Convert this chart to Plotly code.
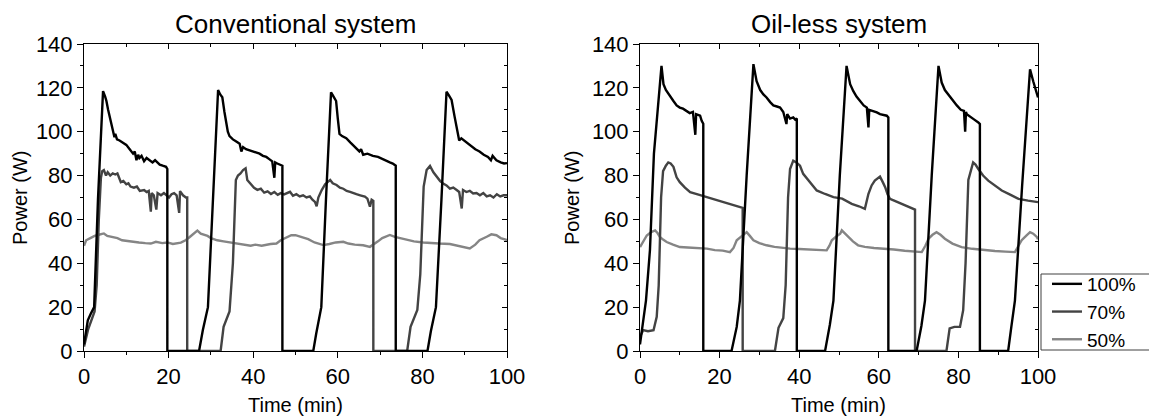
import plotly.graph_objects as go

# Conventional system (left panel), time in min, power in W
conv_100_t = [0, 0.5, 0.9, 1.6, 2.4, 3.3, 4.5, 5.0, 5.3, 5.7, 6.1, 6.5, 6.9, 7.2, 7.4, 7.8, 8.4, 9.2, 10, 10.8,
              11.6, 12.0, 12.4, 12.8, 13.1, 13.6, 14.2, 14.8, 15.5, 16.2, 16.8, 17.9, 18.6, 19.4, 19.7, 19.7,
              27.2, 28.1, 29.3, 30.5, 31.7, 32.2, 32.7, 33.2, 33.6, 34.0, 34.4, 35.2, 36.0, 36.8, 37.2, 37.6,
              38.3, 39.1, 39.9, 40.7, 41.5, 42.3, 43.1, 43.8, 44.5, 45.0, 45.2, 45.7, 46.4, 46.9, 46.9,
              54.2, 54.9, 56.1, 57.2, 58.4, 59.0, 59.6, 60.0, 60.4, 61.0, 62, 63, 64, 65.1, 65.5, 66.0, 67,
              68.3, 69.5, 70.5, 71.5, 72.3, 73, 73.7, 73.7,
              81.2, 82, 83.2, 84.5, 85.7, 86.3, 86.9, 87.6, 88.3, 88.7, 89.2, 90.2, 91.3, 92.5, 93.5, 94.5,
              95.5, 96.2, 96.6, 97.5, 98.5, 99.3, 100]
conv_100_p = [3, 9, 14, 17, 20, 69, 118.5, 116, 114, 110, 106.7, 102, 100, 97.5, 99, 96.5, 96, 95, 94, 92,
              90, 91, 87, 89.5, 88, 89, 86.5, 88, 87, 86, 87, 85, 84.5, 84, 83, 0,
              0, 9.6, 20, 69, 119, 117, 115.7, 109, 103.6, 100, 98, 96.5, 95.5, 94.5, 91, 93,
              92, 91.5, 90.8, 90.5, 90, 89, 88.5, 87.5, 86.5, 79, 86, 85.5, 85, 84.5, 0,
              0, 8, 20, 69, 118, 116, 114, 106, 99, 98, 97, 95, 93, 91, 92, 89.5, 90,
              89, 88.5, 87.5, 86.5, 86, 85.5, 84.5, 0,
              0, 9, 20, 69, 118.2, 116.5, 114.5, 107, 100, 96, 97, 95.5, 94, 92, 91, 89.5,
              88.5, 87, 89, 87, 86, 85.5, 85.7]

conv_70_t = [0, 1, 2.5, 3.0, 3.5, 4.0, 4.3, 4.7, 5.2, 5.6, 6.2, 6.8, 7.4, 7.9, 8.3, 8.7, 9.3, 10, 10.5, 11,
             11.8, 12.5, 13.2, 14.2, 14.8, 15.3, 15.8, 16.0, 16.5, 17.1, 17.4, 18.2, 18.9, 19.5, 20.1, 20.7,
             21.3, 21.9, 22.5, 22.7, 23.4, 24.1, 24.4, 24.4,
             32.3, 33.0, 34.4, 35.2, 35.9, 36.4, 37, 37.6, 38.2, 38.6, 39.4, 40.2, 41.0, 41.8, 42.6, 43.4,
             44.2, 45.0, 45.8, 46.5, 47.3, 48.0, 48.7, 49.4, 50.2, 51.0, 51.8, 52.6, 53.4, 54.0, 54.6, 55,
             55.4, 56.2, 57.0, 58.2, 58.8, 59.7, 60.5, 61.3, 62.1, 62.9, 63.6, 64.4, 65.3, 66.4, 67.0, 67.6,
             68.0, 68.4, 68.4,
             76.4, 77.2, 78.8, 79.5, 80.3, 81, 81.8, 82.6, 83.4, 84.2, 84.9, 85.7, 86.5, 87.3, 88.1, 88.7,
             89.3, 89.6, 90.4, 91.2, 92.0, 92.8, 93.6, 94.4, 95.2, 96, 96.8, 97.6, 98.4, 99.2, 100]
conv_70_p = [2, 10, 18, 30, 60, 79, 82, 82.5, 80, 81.5, 80, 81, 80.5, 81, 79, 77, 77.5, 76, 76.5, 75,
             74.5, 75, 73, 73.4, 72.5, 73, 63.5, 72, 71, 64.5, 72, 71, 72, 71, 70, 71.5,
             72, 71, 63, 72.9, 71, 70, 70, 0,
             0, 11, 18, 40, 78, 80, 81, 82.5, 83.3, 78, 76, 74.4, 73.5, 74, 72.2, 72.8,
             71.6, 72.5, 71.2, 72, 71.4, 72, 72.6, 70.8, 71.5, 70.5, 71, 70, 70.5, 69, 68, 66,
             70, 73.4, 76, 78, 76.5, 75.7, 74.5, 74, 73, 72.6, 72, 71.5, 71, 70.4, 69.5, 65.8,
             69, 68.5, 0,
             0, 11, 18.7, 35, 75, 82.5, 84.4, 81.5, 79.5, 77.5, 76.4, 75.5, 74, 74.5, 73.4, 72.5,
             65, 73.4, 72.5, 73, 71.8, 72, 71, 72, 70.5, 71, 70, 71.5, 70.5, 71, 71]

conv_50_t = [0, 0.5, 1.5, 2.5, 3.5, 4.7, 5.5, 6.5, 7.9, 9, 10.5, 11.8, 13, 14.5, 15.8, 17, 18.5, 19.7, 21,
             22.9, 24, 25, 26.0, 26.8, 27.6, 28.4, 29.2, 30, 31.5, 33, 34.7, 36, 37.5, 39.4, 40.5, 42, 44.1,
             45.5, 46.5, 48, 49, 50, 51.5, 53, 54.5, 56.6, 58, 59.5, 61.3, 62.5, 64, 66, 67.6, 68.5, 69.5,
             70.5, 72.3, 73.5, 74.7, 76, 78, 80.2, 82, 84, 86.5, 88, 89.5, 91.2, 92.5, 93.5, 95.2, 96.3,
             97.5, 98.5, 100]
conv_50_p = [48, 50.5, 51.5, 52.5, 53, 53.6, 52.5, 52, 51.5, 50.5, 50, 49.8, 49.5, 49.2, 49, 49.8, 49.2, 49.5,
             48.8, 49.4, 50.5, 52, 53.5, 54.9, 53.5, 53, 52.5, 51.5, 50.5, 50, 49.5, 49, 48.5, 48, 48.5, 48,
             48.8, 49, 50.5, 52.1, 52.8, 52.8, 52, 51, 49.5, 48.3, 48.8, 49.5, 49.8, 49, 48.5, 48.2, 47.5,
             48.5, 50, 51.5, 52.9, 52, 51.5, 51, 50, 49.5, 49.2, 49, 48.8, 48.2, 47.5, 46.8, 48.5, 50.5,
             52.1, 53.2, 52.8, 51.5, 50.6]

# Oil-less system (right panel)
oil_100_t = [0, 1.0, 1.5, 2.5, 3.5, 5.4, 5.9, 6.5, 7.2, 8.4, 9.2, 10, 10.8, 11.7, 12.5, 13.3, 13.9, 14.1,
             14.6, 15.1, 15.5, 15.9, 15.9,
             23, 24.3, 25.1, 26.8, 28.5, 29.3, 30.2, 31.0, 31.8, 32.7, 33.5, 34.4, 35.2, 36.0, 36.8, 37.0,
             37.7, 38.5, 39.0, 39.4, 39.4,
             46.5, 47.7, 48.6, 50.2, 51.9, 52.8, 53.6, 54.4, 55.3, 56.2, 57.0, 57.4, 57.6, 58.5, 59.5, 60.3,
             61.2, 62.0, 62.4, 62.4,
             69.5, 70.7, 71.6, 73.3, 75, 75.8, 76.6, 77.6, 78.7, 79.6, 80.6, 81.4, 81.7, 81.9, 82.1, 83.0,
             84.0, 85, 85.4, 85.4,
             92.5, 93.3, 94.2, 96, 98, 98.8, 99.4, 100]
oil_100_p = [3, 17, 23, 46, 90, 130, 121.7, 119, 117, 114, 112, 111, 110.5, 109.5, 108.5, 109, 98.6, 108,
             107.5, 107.3, 105, 103.6, 0,
             0, 11, 23, 80, 130.8, 123, 119, 117, 115.6, 113.5, 112, 111.5, 111, 109, 103.5, 108,
             106, 106.5, 105.5, 106, 0,
             0, 12, 23, 80, 130, 121.7, 118.5, 116, 114, 112, 111, 102, 110, 109.5, 108.8, 108,
             107.5, 107.3, 106.5, 0,
             0, 11.4, 23, 80, 130, 122.4, 119, 116.5, 114, 112, 110, 109.5, 100, 109, 108, 107,
             105.5, 104.2, 103.5, 0,
             0, 11, 23, 75, 128.5, 123, 119, 115.6]

oil_70_t = [0, 0.8, 2.0, 3.4, 4.2, 4.7, 5.3, 5.8, 6.5, 7.1, 7.7, 8.4, 9.2, 10.0, 11.3, 12.6, 14.7, 16.8, 18.8,
            20.9, 23.0, 25.1, 25.8, 25.8,
            33.9, 34.8, 36.0, 36.6, 37.2, 37.7, 38.5, 39.3, 40.2, 41.0, 42.7, 44.4, 46.5, 48.6, 50.8, 53.2,
            55.0, 56.5, 57.4, 58.2, 59.0, 60.3, 61.0, 61.6, 62.2, 62.8, 64.3, 65.8, 67.3, 68.7, 69.1, 69.1,
            77, 77.8, 79.0, 80.4, 81.2, 81.8, 82.5, 83.7, 84.3, 85, 86.2, 87.5, 89.2, 90.9, 93.0, 95.1, 97.5,
            100]
oil_70_p = [6.5, 9.5, 9, 9.5, 15.6, 30, 70, 82, 84.5, 86, 85.5, 84, 79.2, 77, 74.5, 72.4, 71.3, 70.2, 69,
            67.9, 66.8, 65.6, 65.3, 0,
            0, 10.6, 15, 30, 70, 83, 86.8, 86, 84.5, 80.8, 77, 73.2, 71.6, 70.2, 69.5, 67.1,
            66, 64.8, 71.7, 75.5, 77.7, 79.5, 77, 74.7, 71.5, 69.4, 68.2, 67.1, 66, 64.8, 64.5, 0,
            0, 10.3, 11, 11, 18.6, 40, 78, 86, 85, 83, 80, 77.7, 75.3, 73.2, 71.3, 69.4, 68.6,
            67.9]

oil_50_t = [0, 0.8, 1.7, 2.8, 3.8, 4.4, 5, 5.8, 6.7, 8.3, 10, 12, 14.4, 16.8, 18.8, 20.8, 22.6, 23.5, 24.3,
            25.5, 26.8, 27.6, 28.5, 30, 31.8, 33.8, 35.8, 37.7, 40, 42.5, 44.6, 46.9, 47.6, 48.2, 49.3, 50.3,
            50.7, 51.5, 52.3, 53.5, 54.8, 56.5, 58.8, 61.5, 63.8, 66.5, 68.7, 70.8, 71.7, 72.5, 73.5, 74.5,
            75.5, 76.6, 78.5, 80.8, 83.5, 86.6, 89.2, 91.8, 94.2, 95.1, 95.9, 97, 98, 98.8, 99.7, 100]
oil_50_p = [47.4, 50, 52.7, 54.2, 55, 53.8, 52, 50.8, 49.7, 48.5, 47.4, 47.2, 46.9, 46.7, 46, 45.8, 45.1, 47,
            50.5, 52.5, 54.2, 52.5, 50.5, 49.2, 48.2, 47.5, 47, 46.7, 46.5, 46.2, 46, 45.9, 48, 50.5, 52.2,
            53.5, 55, 53.5, 52, 50, 48.2, 47.5, 47, 46.7, 46.3, 45.7, 45.4, 45.1, 48, 51.2, 53, 54.2,
            53, 51.2, 49, 47.4, 46.6, 45.9, 45.6, 45.3, 45.1, 48, 50.5, 52.5, 54.2, 53.5, 52, 51]

labels = ["100%", "70%", "50%"]
colors = ["#000000", "#434343", "#858585"]
FONT = "Liberation Sans, Arial, sans-serif"

# the page body has an 8px margin, so the figure is sized/positioned to fit the window
W, H, OFF = 1149, 411, 8


def px_x(x):
    return (x - OFF) / W


def px_y(y):
    return 1 - (y - OFF) / H


fig = go.Figure()

left = [(conv_100_t, conv_100_p), (conv_70_t, conv_70_p), (conv_50_t, conv_50_p)]
right = [(oil_100_t, oil_100_p), (oil_70_t, oil_70_p), (oil_50_t, oil_50_p)]

# draw 50% first so the darker curves sit on top
for i in [2, 1, 0]:
    t, p = left[i]
    fig.add_trace(go.Scatter(x=t, y=p, mode="lines", line=dict(color=colors[i], width=2.4),
                             name=labels[i], showlegend=False, xaxis="x", yaxis="y"))
for i in [2, 1, 0]:
    t, p = right[i]
    fig.add_trace(go.Scatter(x=t, y=p, mode="lines", line=dict(color=colors[i], width=2.4),
                             name=labels[i], showlegend=True, legendrank=i + 1, xaxis="x2", yaxis="y2"))

# empty traces so the inward-tick mirror axes get drawn
fig.add_trace(go.Scatter(x=[None], y=[None], showlegend=False, xaxis="x3", yaxis="y3"))
fig.add_trace(go.Scatter(x=[None], y=[None], showlegend=False, xaxis="x4", yaxis="y4"))

x_dom = [[px_x(84), px_x(507)], [px_x(640), px_x(1038)]]
y_dom = [px_y(351), px_y(44)]


def base_axis(rng, dom=None):
    ax = dict(range=rng, showgrid=False, zeroline=False, showline=True, linecolor="black", linewidth=1,
              ticks="outside", ticklen=6, tickwidth=1, tickcolor="black", dtick=20,
              tickfont=dict(size=22, color="black", family=FONT),
              minor=dict(dtick=10, ticks="outside", ticklen=3, tickcolor="black"))
    if dom is not None:
        ax["domain"] = dom
    return ax


def mirror_axis(rng, over, side, anchor):
    return dict(range=rng, overlaying=over, side=side, anchor=anchor, showgrid=False, zeroline=False,
                showline=True, linecolor="black", linewidth=1, ticks="inside", ticklen=5, tickcolor="black",
                dtick=20, showticklabels=False,
                minor=dict(dtick=10, ticks="inside", ticklen=3, tickcolor="black"))


fig.update_layout(
    width=W, height=H,
    margin=dict(l=0, r=0, t=0, b=0, autoexpand=False),
    plot_bgcolor="white", paper_bgcolor="white",
    font=dict(family=FONT, color="black"),
    xaxis=dict(base_axis([0, 100], x_dom[0]), anchor="y"),
    yaxis=dict(base_axis([0, 140], y_dom), anchor="x"),
    xaxis2=dict(base_axis([0, 100], x_dom[1]), anchor="y2"),
    yaxis2=dict(base_axis([0, 140], y_dom), anchor="x2"),
    xaxis3=mirror_axis([0, 100], "x", "top", "y"),
    yaxis3=mirror_axis([0, 140], "y", "right", "x"),
    xaxis4=mirror_axis([0, 100], "x2", "top", "y2"),
    yaxis4=mirror_axis([0, 140], "y2", "right", "x2"),
    legend=dict(x=px_x(1047), y=px_y(265), xanchor="left", yanchor="top",
                borderwidth=0, bgcolor="rgba(0,0,0,0)",
                font=dict(size=19, family=FONT, color="black"), tracegroupgap=0),
)

# legend frame drawn separately so it hugs the entries like the reference
fig.add_shape(type="rect", xref="paper", yref="paper",
              x0=px_x(1041), x1=px_x(1156.5), y0=px_y(350), y1=px_y(274),
              line=dict(color="#404040", width=1), fillcolor="rgba(0,0,0,0)", layer="below")

notes = [
    dict(text="Conventional system", x=295.5, y=24, size=26, angle=0),
    dict(text="Oil-less system", x=839, y=24, size=26, angle=0),
    dict(text="Time (min)", x=295.5, y=405, size=20, angle=0),
    dict(text="Time (min)", x=839, y=405, size=20, angle=0),
    dict(text="Power (W)", x=20, y=198, size=20, angle=-90),
    dict(text="Power (W)", x=572, y=198, size=20, angle=-90),
]
for n in notes:
    fig.add_annotation(text=n["text"], x=px_x(n["x"]), y=px_y(n["y"]), xref="paper", yref="paper",
                       xanchor="center", yanchor="middle", showarrow=False, textangle=n["angle"],
                       font=dict(size=n["size"], family=FONT, color="black"))

fig.write_html("out.html")
